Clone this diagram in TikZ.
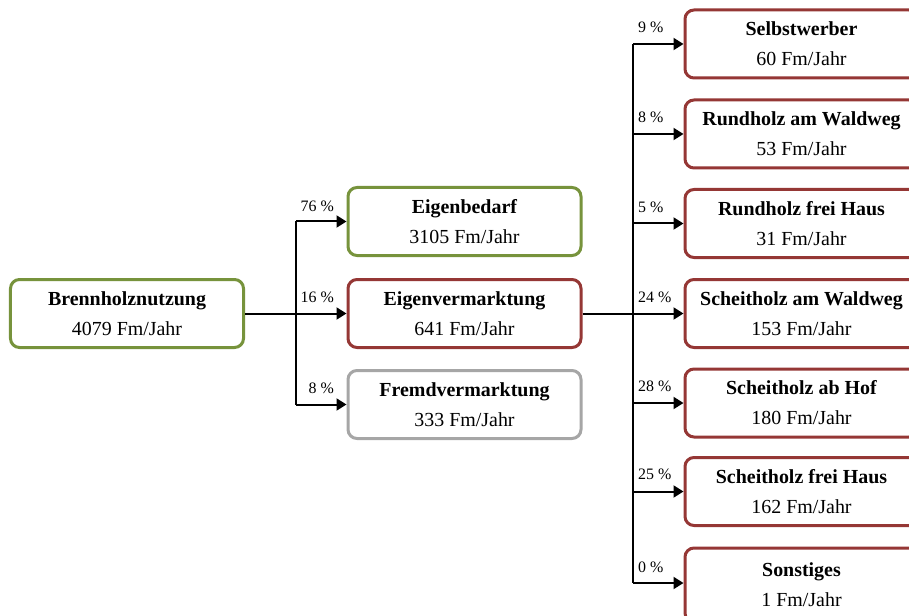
\documentclass[tikz,border=0pt]{standalone}
\usepackage{fontspec}
\setmainfont{Liberation Serif}
\usetikzlibrary{arrows.meta}
\definecolor{boxgreen}{HTML}{77933C}
\definecolor{boxred}{HTML}{953735}
\definecolor{boxgrey}{HTML}{A6A6A6}
\tikzset{
  flowbox/.style={draw, line width=3bp, rounded corners=9bp, minimum width=233bp,
    minimum height=68bp, align=center, inner sep=0pt, fill=white,
    font=\fontsize{20}{30}\selectfont},
  greenbox/.style={flowbox, draw=boxgreen},
  redbox/.style={flowbox, draw=boxred},
  greybox/.style={flowbox, draw=boxgrey},
  conn/.style={line width=2bp, -{Triangle[length=10bp,width=12bp]}},
  plainline/.style={line width=2bp},
  pct/.style={inner sep=0pt, font=\fontsize{16}{16}\selectfont},
}
\begin{document}
\begin{tikzpicture}[x=1bp,y=-1bp]
\useasboundingbox (0,0) rectangle (909,616);
\clip (0,0) rectangle (909,616);
% left column
\node[greenbox] (brenn) at (127,313.5) {\textbf{Brennholznutzung}\\4079 Fm/Jahr};
\node[greenbox] (eigenb) at (464.5,221.5) {\textbf{Eigenbedarf}\\3105 Fm/Jahr};
\node[redbox] (eigenv) at (464.5,313.5) {\textbf{Eigenvermarktung}\\641 Fm/Jahr};
\node[greybox] (fremd) at (464.5,404.5) {\textbf{Fremdvermarktung}\\333 Fm/Jahr};
% right column
\node[redbox] (selbst) at (801.5,44) {\textbf{Selbstwerber}\\60 Fm/Jahr};
\node[redbox] (rundw) at (801.5,134) {\textbf{Rundholz am Waldweg}\\53 Fm/Jahr};
\node[redbox] (rundh) at (801.5,223.5) {\textbf{Rundholz frei Haus}\\31 Fm/Jahr};
\node[redbox] (scheitw) at (801.5,313.5) {\textbf{Scheitholz am Waldweg}\\153 Fm/Jahr};
\node[redbox] (scheith) at (801.5,403) {\textbf{Scheitholz ab Hof}\\180 Fm/Jahr};
\node[redbox] (scheitf) at (801.5,491.5) {\textbf{Scheitholz frei Haus}\\162 Fm/Jahr};
\node[redbox, minimum height=74bp] (sonst) at (801.5,585) {\textbf{Sonstiges}\\1 Fm/Jahr};
% junctions
\coordinate (j1) at (296,313.5);
\coordinate (j2) at (633,313.5);
% left connectors
\draw[conn] (brenn.east) -- (eigenv.west);
\draw[plainline] (j1 |- eigenb.west) -- (j1 |- fremd.west);
\draw[conn] (j1 |- eigenb.west) -- (eigenb.west);
\draw[conn] (j1 |- fremd.west) -- (fremd.west);
% right connectors
\draw[conn] (eigenv.east) -- (scheitw.west);
\coordinate (sonstin) at (633,583);
\draw[plainline] (j2 |- selbst.west) -- (sonstin);
\foreach \n in {selbst,rundw,rundh,scheith,scheitf}
  \draw[conn] (j2 |- \n.west) -- (\n.west);
\draw[conn] (sonstin) -- (sonstin -| sonst.west);
% percentages
\node[pct, anchor=base east] (p1) at (334,211.5) {76 \%};
\node[pct, anchor=base east] (p2) at (334,302.5) {16 \%};
\node[pct, anchor=base east] (p3) at (334,393.5) {8 \%};
\node[pct, anchor=base west] (q1) at (638,33) {9 \%};
\node[pct, anchor=base west] (q2) at (638,123) {8 \%};
\node[pct, anchor=base west] (q3) at (638,213) {5 \%};
\node[pct, anchor=base west] (q4) at (638,302.5) {24 \%};
\node[pct, anchor=base west] (q5) at (638,391.5) {28 \%};
\node[pct, anchor=base west] (q6) at (638,479.5) {25 \%};
\node[pct, anchor=base west] (q7) at (638,572) {0 \%};
\end{tikzpicture}
\end{document}
